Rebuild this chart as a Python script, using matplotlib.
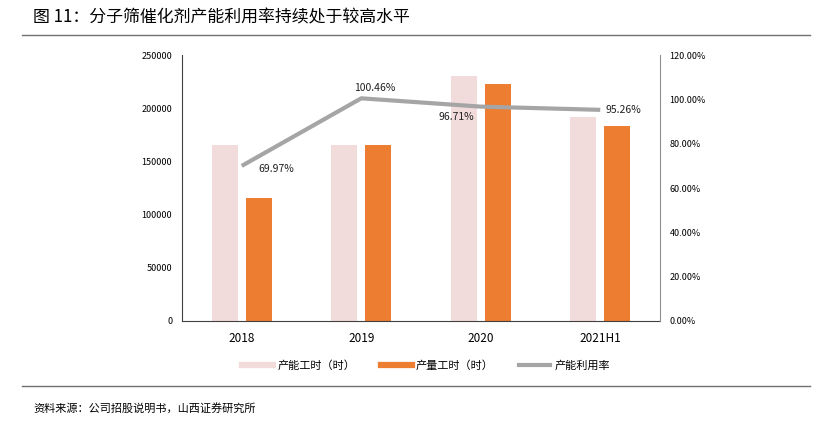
import matplotlib.pyplot as plt
from matplotlib.lines import Line2D
import numpy as np

plt.rcParams['font.family'] = ['Noto Sans CJK SC', 'DejaVu Sans']

years = ['2018', '2019', '2020', '2021H1']
capacity = [165000, 165000, 230000, 192000]
output = [115500, 165800, 222400, 182900]
util = [69.97, 100.46, 96.71, 95.26]
util_labels = ['69.97%', '100.46%', '96.71%', '95.26%']

c_cap = '#F2DCDB'
c_out = '#ED7D31'
c_line = '#A5A5A5'

fig = plt.figure(figsize=(8.26, 4.22), dpi=100)
ax = fig.add_axes([182/826, 1 - 321/422, (660 - 182)/826, (321 - 55)/422])
x = np.arange(len(years))
w = 0.22
ax.bar(x - 0.142, capacity, w, color=c_cap, zorder=2)
ax.bar(x + 0.142, output, w, color=c_out, zorder=2)
ax.set_xlim(-0.5, 3.5)
ax.set_ylim(0, 250000)
ax.set_yticks(range(0, 250001, 50000))
ax.set_xticks(x)
ax.set_xticklabels(years, fontsize=8.5)
ax.tick_params(axis='y', labelsize=6.5, length=0, pad=7)
ax.tick_params(axis='x', length=0, pad=8)
for s in ['top', 'right']:
    ax.spines[s].set_visible(False)
ax.spines['left'].set_color('#404040')
ax.spines['bottom'].set_color('#404040')

ax2 = ax.twinx()
ax2.plot(x, util, color=c_line, lw=3, solid_capstyle='butt', zorder=3)
ax2.set_ylim(0, 120)
ax2.set_yticks(range(0, 121, 20))
ax2.set_yticklabels(['%.2f%%' % v for v in range(0, 121, 20)])
ax2.tick_params(axis='y', labelsize=6.5, length=0, pad=7)
for s in ['top', 'left', 'bottom']:
    ax2.spines[s].set_visible(False)
ax2.spines['right'].set_color('#909090')

offsets = [(12, -2, 'left', 'center'), (10, 4, 'center', 'bottom'),
           (-5, -4, 'right', 'top'), (4, 0, 'left', 'center')]
for i, (dx, dy, ha, va) in enumerate(offsets):
    ax2.annotate(util_labels[i], (x[i], util[i]), xytext=(dx, dy),
                 textcoords='offset points', ha=ha, va=va, fontsize=7.5,
                 color='#202020')

handles = [Line2D([], [], color=c_cap, lw=4.5),
           Line2D([], [], color=c_out, lw=4.5),
           Line2D([], [], color=c_line, lw=3)]
fig.legend(handles, ['产能工时（时）', '产量工时（时）', '产能利用率'],
           loc='center', bbox_to_anchor=(426/826, 1 - 366/422), ncol=3,
           frameon=False, fontsize=8, handlelength=2.8, columnspacing=2.3,
           handletextpad=0.35)

fig.text(33/826, 1 - 17/422, '图 11：分子筛催化剂产能利用率持续处于较高水平',
         fontsize=12.2, va='center', ha='left')
fig.add_artist(Line2D([22/826, 810/826], [1 - 35/422, 1 - 35/422],
                      color='#707070', lw=1))
fig.add_artist(Line2D([22/826, 810/826], [1 - 386/422, 1 - 386/422],
                      color='#707070', lw=1))
fig.text(33/826, 1 - 408/422, '资料来源：公司招股说明书，山西证券研究所',
         fontsize=8, va='center', ha='left')

fig.savefig('out.png', dpi=100)
